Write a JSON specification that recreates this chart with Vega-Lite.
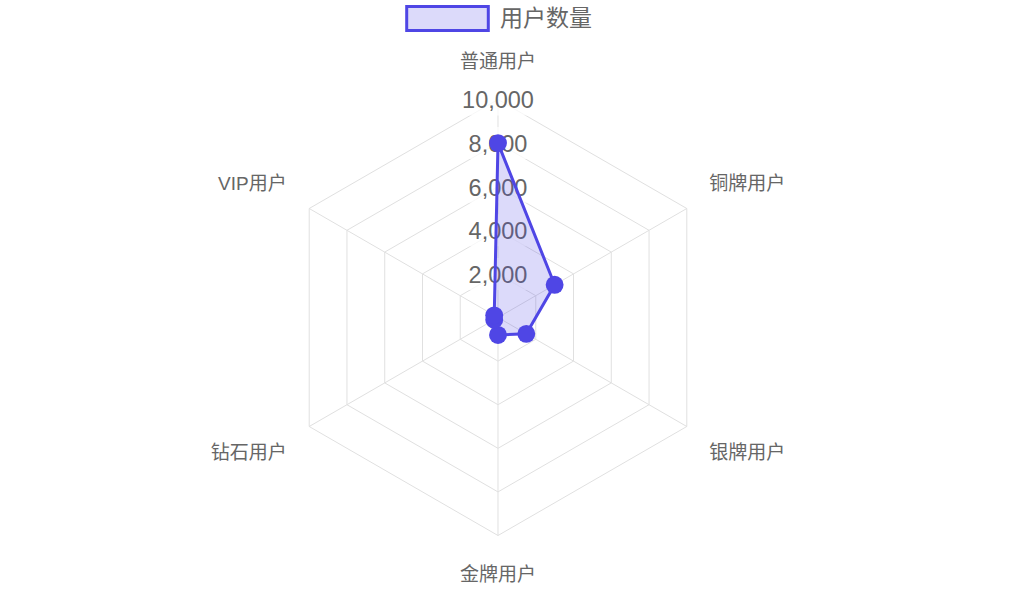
{
  "$schema": "https://vega.github.io/schema/vega-lite/v6.json",
  "width": 1020,
  "height": 594,
  "autosize": {"type": "none"},
  "padding": 0,
  "background": "white",
  "config": {
    "view": {"stroke": null},
    "font": "Liberation Sans, Noto Sans CJK SC, sans-serif",
    "text": {"font": "Liberation Sans, Noto Sans CJK SC, sans-serif"}
  },
  "datasets": {
    "users": [
      {"category": "普通用户", "value": 8000, "idx": 0},
      {"category": "铜牌用户", "value": 3000, "idx": 1},
      {"category": "银牌用户", "value": 1500, "idx": 2},
      {"category": "金牌用户", "value": 800, "idx": 3},
      {"category": "钻石用户", "value": 200, "idx": 4},
      {"category": "VIP用户", "value": 200, "idx": 5}
    ],
    "rings": [
      {"level": 2000, "idx": 0}, {"level": 2000, "idx": 1}, {"level": 2000, "idx": 2}, {"level": 2000, "idx": 3}, {"level": 2000, "idx": 4}, {"level": 2000, "idx": 5},
      {"level": 4000, "idx": 0}, {"level": 4000, "idx": 1}, {"level": 4000, "idx": 2}, {"level": 4000, "idx": 3}, {"level": 4000, "idx": 4}, {"level": 4000, "idx": 5},
      {"level": 6000, "idx": 0}, {"level": 6000, "idx": 1}, {"level": 6000, "idx": 2}, {"level": 6000, "idx": 3}, {"level": 6000, "idx": 4}, {"level": 6000, "idx": 5},
      {"level": 8000, "idx": 0}, {"level": 8000, "idx": 1}, {"level": 8000, "idx": 2}, {"level": 8000, "idx": 3}, {"level": 8000, "idx": 4}, {"level": 8000, "idx": 5},
      {"level": 10000, "idx": 0}, {"level": 10000, "idx": 1}, {"level": 10000, "idx": 2}, {"level": 10000, "idx": 3}, {"level": 10000, "idx": 4}, {"level": 10000, "idx": 5}
    ],
    "spokes": [
      {"idx": 0, "level": 10000}, {"idx": 1, "level": 10000}, {"idx": 2, "level": 10000},
      {"idx": 3, "level": 10000}, {"idx": 4, "level": 10000}, {"idx": 5, "level": 10000}
    ],
    "ticks": [
      {"level": 2000, "label": "2,000"},
      {"level": 4000, "label": "4,000"},
      {"level": 6000, "label": "6,000"},
      {"level": 8000, "label": "8,000"},
      {"level": 10000, "label": "10,000"}
    ]
  },
  "encoding": {
    "x": {"field": "px", "type": "quantitative", "axis": null, "scale": {"domain": [-22844, 23945], "nice": false, "zero": false}},
    "y": {"field": "py", "type": "quantitative", "axis": null, "scale": {"domain": [-12683, 14564], "nice": false, "zero": false}}
  },
  "layer": [
    {
      "data": {"name": "rings"},
      "transform": [
        {"calculate": "datum.level * sin(datum.idx * PI / 3)", "as": "px"},
        {"calculate": "datum.level * cos(datum.idx * PI / 3)", "as": "py"}
      ],
      "mark": {"type": "line", "interpolate": "linear-closed", "stroke": "#e0e0e0", "strokeWidth": 1},
      "encoding": {"detail": {"field": "level"}, "order": {"field": "idx"}}
    },
    {
      "data": {"name": "spokes"},
      "transform": [
        {"calculate": "datum.level * sin(datum.idx * PI / 3)", "as": "px"},
        {"calculate": "datum.level * cos(datum.idx * PI / 3)", "as": "py"}
      ],
      "mark": {"type": "rule", "stroke": "#e0e0e0", "strokeWidth": 1},
      "encoding": {"x2": {"datum": 0}, "y2": {"datum": 0}}
    },
    {
      "data": {"name": "ticks"},
      "transform": [
        {"filter": "datum.level < 10000"},
        {"calculate": "0", "as": "px"},
        {"calculate": "datum.level", "as": "py"}
      ],
      "mark": {"type": "rect", "width": 64, "height": 32, "fill": "white", "fillOpacity": 0.75}
    },
    {
      "data": {"name": "ticks"},
      "transform": [
        {"filter": "datum.level == 10000"},
        {"calculate": "0", "as": "px"},
        {"calculate": "datum.level", "as": "py"}
      ],
      "mark": {"type": "rect", "width": 78, "height": 32, "fill": "white", "fillOpacity": 0.75}
    },
    {
      "data": {"name": "ticks"},
      "transform": [
        {"calculate": "0", "as": "px"},
        {"calculate": "datum.level", "as": "py"}
      ],
      "mark": {"type": "text", "fontSize": 23.5, "fill": "#666666", "align": "center", "baseline": "middle", "dy": 2},
      "encoding": {"text": {"field": "label"}}
    },
    {
      "data": {"name": "users"},
      "transform": [
        {"calculate": "datum.value * sin(datum.idx * PI / 3)", "as": "px"},
        {"calculate": "datum.value * cos(datum.idx * PI / 3)", "as": "py"}
      ],
      "mark": {"type": "line", "interpolate": "linear-closed", "fill": "rgba(79,70,229,0.2)", "strokeWidth": 3},
      "encoding": {
        "order": {"field": "idx"},
        "color": {
          "datum": "用户数量",
          "type": "nominal",
          "scale": {"range": ["#4f46e5"]},
          "legend": {
            "orient": "none",
            "legendX": 422,
            "legendY": -7,
            "title": null,
            "padding": 0,
            "symbolType": "M-1.7,-0.5H1.7V0.5H-1.7Z",
            "symbolSize": 2304,
            "symbolStrokeWidth": 3,
            "symbolStrokeColor": "#4f46e5",
            "symbolFillColor": "rgba(79,70,229,0.2)",
            "labelFontSize": 23,
            "labelColor": "#666666",
            "labelOffset": 27,
            "labelFont": "Liberation Sans, Noto Sans CJK SC, sans-serif"
          }
        }
      }
    },
    {
      "data": {"name": "users"},
      "transform": [
        {"calculate": "datum.value * sin(datum.idx * PI / 3)", "as": "px"},
        {"calculate": "datum.value * cos(datum.idx * PI / 3)", "as": "py"}
      ],
      "mark": {"type": "circle", "size": 320, "fill": "#4f46e5", "opacity": 1}
    },
    {
      "data": {"name": "users"},
      "transform": [
        {"filter": "datum.idx == 0"},
        {"calculate": "11300 * sin(datum.idx * PI / 3)", "as": "px"},
        {"calculate": "11300 * cos(datum.idx * PI / 3)", "as": "py"}
      ],
      "mark": {"type": "text", "fontSize": 19, "fill": "#666666", "align": "center", "baseline": "middle", "dy": -9},
      "encoding": {"text": {"field": "category"}}
    },
    {
      "data": {"name": "users"},
      "transform": [
        {"filter": "datum.idx == 1"},
        {"calculate": "11300 * sin(datum.idx * PI / 3)", "as": "px"},
        {"calculate": "11300 * cos(datum.idx * PI / 3)", "as": "py"}
      ],
      "mark": {"type": "text", "fontSize": 19, "fill": "#666666", "align": "left", "baseline": "middle", "dy": -10, "dx": -2},
      "encoding": {"text": {"field": "category"}}
    },
    {
      "data": {"name": "users"},
      "transform": [
        {"filter": "datum.idx == 2"},
        {"calculate": "11300 * sin(datum.idx * PI / 3)", "as": "px"},
        {"calculate": "11300 * cos(datum.idx * PI / 3)", "as": "py"}
      ],
      "mark": {"type": "text", "fontSize": 19, "fill": "#666666", "align": "left", "baseline": "middle", "dy": 12, "dx": -2},
      "encoding": {"text": {"field": "category"}}
    },
    {
      "data": {"name": "users"},
      "transform": [
        {"filter": "datum.idx == 3"},
        {"calculate": "11300 * sin(datum.idx * PI / 3)", "as": "px"},
        {"calculate": "11300 * cos(datum.idx * PI / 3)", "as": "py"}
      ],
      "mark": {"type": "text", "fontSize": 19, "fill": "#666666", "align": "center", "baseline": "middle", "dy": 11},
      "encoding": {"text": {"field": "category"}}
    },
    {
      "data": {"name": "users"},
      "transform": [
        {"filter": "datum.idx == 4"},
        {"calculate": "11300 * sin(datum.idx * PI / 3)", "as": "px"},
        {"calculate": "11300 * cos(datum.idx * PI / 3)", "as": "py"}
      ],
      "mark": {"type": "text", "fontSize": 19, "fill": "#666666", "align": "right", "baseline": "middle", "dy": 12, "dx": 2},
      "encoding": {"text": {"field": "category"}}
    },
    {
      "data": {"name": "users"},
      "transform": [
        {"filter": "datum.idx == 5"},
        {"calculate": "11300 * sin(datum.idx * PI / 3)", "as": "px"},
        {"calculate": "11300 * cos(datum.idx * PI / 3)", "as": "py"}
      ],
      "mark": {"type": "text", "fontSize": 19, "fill": "#666666", "align": "right", "baseline": "middle", "dy": -10, "dx": 2},
      "encoding": {"text": {"field": "category"}}
    }
  ]
}
